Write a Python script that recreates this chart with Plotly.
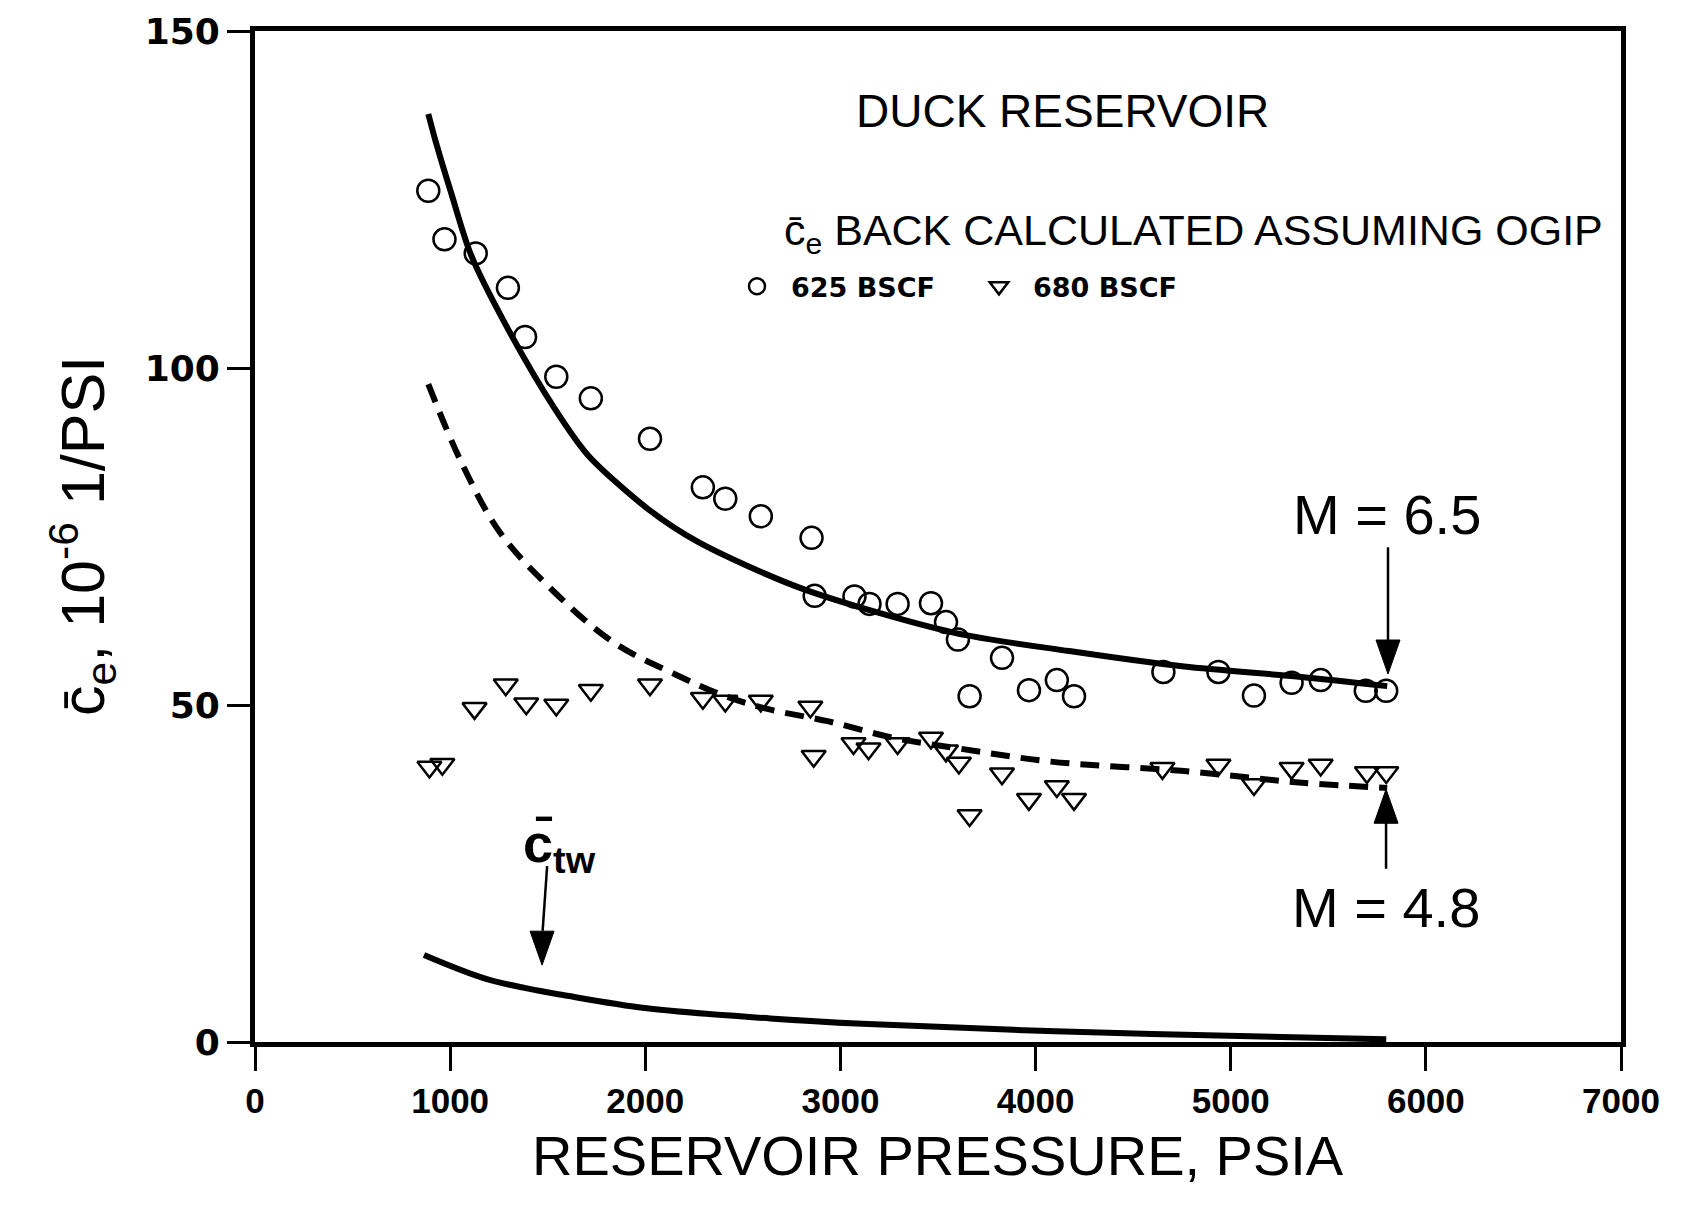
import plotly.graph_objects as go

# Back-calculated effective compressibility, 625 BSCF OGIP (open circles)
p_625 = [888, 971, 1131, 1296, 1384, 1544, 1721, 2024, 2295, 2410, 2592, 2852, 2868,
         3072, 3149, 3293, 3464, 3541, 3602, 3662, 3828, 3966, 4109, 4197, 4655, 4937,
         5119, 5312, 5461, 5692, 5797]
ce_625 = [126.3, 119.1, 117.0, 111.9, 104.6, 98.7, 95.5, 89.5, 82.3, 80.6, 78.0, 74.8, 66.2,
          66.1, 65.0, 65.0, 65.1, 62.3, 59.7, 51.3, 57.0, 52.2, 53.7, 51.3, 54.9, 54.9,
          51.4, 53.3, 53.7, 52.1, 52.1]

# Back-calculated effective compressibility, 680 BSCF OGIP (open triangles)
p_680 = [894, 960, 1125, 1285, 1390, 1544, 1721, 2024, 2295, 2410, 2592, 2846, 2863,
         3067, 3144, 3293, 3464, 3541, 3607, 3662, 3828, 3966, 4109, 4197, 4650, 4937,
         5119, 5312, 5461, 5698, 5797]
ce_680 = [40.8, 41.2, 49.5, 53.0, 50.2, 50.0, 52.2, 53.0, 51.0, 50.6, 50.6, 49.7, 42.4,
          44.3, 43.5, 44.3, 45.1, 43.2, 41.4, 33.6, 39.8, 36.0, 37.9, 36.0, 40.6, 41.1,
          38.2, 40.6, 41.1, 40.0, 40.0]

# Model curve, M = 6.5 (solid)
p_m65 = [888, 928, 1005, 1108, 1296, 1535, 1705, 2013, 2270, 2800, 3585, 4173, 4762, 5350, 5802]
ce_m65 = [137.7, 133.4, 126.0, 116.7, 105.8, 94.0, 87.1, 79.1, 74.2, 67.3, 60.7, 58.0, 55.7, 54.2, 52.8]

# Model curve, M = 4.8 (dashed)
p_m48 = [888, 1056, 1253, 1511, 1837, 2157, 2385, 2614, 2934, 3276, 3618, 4079, 4762, 5350, 5802]
ce_m48 = [97.6, 86.1, 75.7, 67.4, 59.3, 54.5, 51.6, 49.5, 47.6, 45.1, 43.5, 41.6, 40.2, 38.5, 37.7]

# Total rock + water compressibility, c_tw
p_tw = [866, 1180, 1456, 1572, 2008, 2640, 3111, 4101, 5317, 5797]
c_tw = [12.9, 9.4, 7.6, 7.0, 5.0, 3.5, 2.7, 1.6, 0.7, 0.4]

x_ticks = [0, 1000, 2000, 3000, 4000, 5000, 6000, 7000]
y_ticks = [0, 50, 100, 150]

BAR = "\u0304"  # combining macron for c-bar
sans = "Liberation Sans, Arial, sans-serif"

fig = go.Figure()

fig.add_trace(go.Scatter(x=p_m65, y=ce_m65, mode="lines", showlegend=False,
                         line=dict(color="black", width=6, shape="spline", smoothing=0.8)))
fig.add_trace(go.Scatter(x=p_m48, y=ce_m48, mode="lines", showlegend=False,
                         line=dict(color="black", width=6, dash="19px,11px",
                                   shape="spline", smoothing=1.0)))
fig.add_trace(go.Scatter(x=p_tw, y=c_tw, mode="lines", showlegend=False,
                         line=dict(color="black", width=6, shape="spline", smoothing=1.0)))

fig.add_trace(go.Scatter(x=p_625, y=ce_625, mode="markers", name="625 BSCF",
                         marker=dict(symbol="circle-open", size=22, color="black",
                                     line=dict(width=2.5, color="black"))))
fig.add_trace(go.Scatter(x=p_680, y=ce_680, mode="markers", name="680 BSCF",
                         marker=dict(symbol="triangle-down-open", size=21, color="black",
                                     line=dict(width=2.5, color="black"))))

# annotation arrows: shaft as a line, head as a pixel-sized filled triangle at the tip
arrows = [
    # (tail_x, tail_y, base_x, base_y, tip_x, tip_y, pointing_down)
    (5806, 73.4, 5806, 59.4, 5806, 54.6, True),
    (5796, 25.7, 5796, 32.7, 5796, 37.5, False),
    (1497, 26.1, 1474, 16.5, 1471, 11.4, True),
]
for tx, ty, bx, by, hx, hy, down in arrows:
    fig.add_shape(type="line", xref="x", yref="y", x0=tx, y0=ty, x1=bx, y1=by,
                  line=dict(color="black", width=2.5))
    head = "M -12,34 L 12,34 L 0,0 Z" if down else "M -12,-34 L 12,-34 L 0,0 Z"
    fig.add_shape(type="path", xref="x", yref="y", xsizemode="pixel", ysizemode="pixel",
                  xanchor=hx, yanchor=hy, path=head, fillcolor="black",
                  line=dict(color="black", width=1))

annotations = [
    dict(x=4136, y=138.1, text="DUCK RESERVOIR", font=dict(family=sans, size=46),
         xanchor="center", yanchor="middle"),
    dict(x=2700, y=120.0, text="c" + BAR + "<sub>e</sub> BACK CALCULATED ASSUMING OGIP",
         font=dict(family=sans, size=43), xanchor="left", yanchor="middle"),
    dict(x=5801, y=78.3, text="M = 6.5", font=dict(family=sans, size=56),
         xanchor="center", yanchor="middle"),
    dict(x=5796, y=20.0, text="M = 4.8", font=dict(family=sans, size=56),
         xanchor="center", yanchor="middle"),
    dict(x=1558, y=29.0, text="c" + BAR + "<sub>tw</sub>",
         font=dict(family=sans, size=54, weight="bold"), xanchor="center", yanchor="middle"),
    # axis titles
    dict(xref="paper", yref="paper", x=-0.127, y=0.5, textangle=-90,
         text="c" + BAR + "<sub>e</sub>, 10<sup>-6</sup> 1/PSI",
         font=dict(family=sans, size=61), xanchor="center", yanchor="middle"),
    dict(xref="paper", yref="paper", x=0.5, y=-0.112,
         text="RESERVOIR PRESSURE, PSIA",
         font=dict(family=sans, size=56), xanchor="center", yanchor="middle"),
]
for a in annotations:
    a.setdefault("xref", "x")
    a.setdefault("yref", "y")
    fig.add_annotation(showarrow=False, font_color="black", **a)

fig.update_xaxes(range=[0, 7000], tickvals=x_ticks, ticks="outside", ticklen=24, tickwidth=2.5,
                 tickcolor="black", showline=True, linewidth=5, linecolor="black", mirror=True,
                 showgrid=False, zeroline=False, ticklabelstandoff=0,
                 tickfont=dict(family=sans, size=35, weight="bold", color="black"))
fig.update_yaxes(range=[0, 150], tickvals=y_ticks, ticks="outside", ticklen=23, tickwidth=2.5,
                 tickcolor="black", showline=True, linewidth=5, linecolor="black", mirror=True,
                 showgrid=False, zeroline=False, ticklabelstandoff=0,
                 tickfont=dict(family="DejaVu Sans, sans-serif", size=36, weight="bold",
                               color="black"))

fig.update_layout(
    width=1687, height=1208,
    margin=dict(l=255, r=66, t=31, b=166),
    paper_bgcolor="white", plot_bgcolor="white",
    legend=dict(orientation="h", x=0.3426, y=0.747, xanchor="left", yanchor="middle",
                itemwidth=58, entrywidth=169, bgcolor="rgba(0,0,0,0)",
                font=dict(family="DejaVu Sans, sans-serif", size=27, weight="bold",
                          color="black")),
)

fig.write_html("out.html")
